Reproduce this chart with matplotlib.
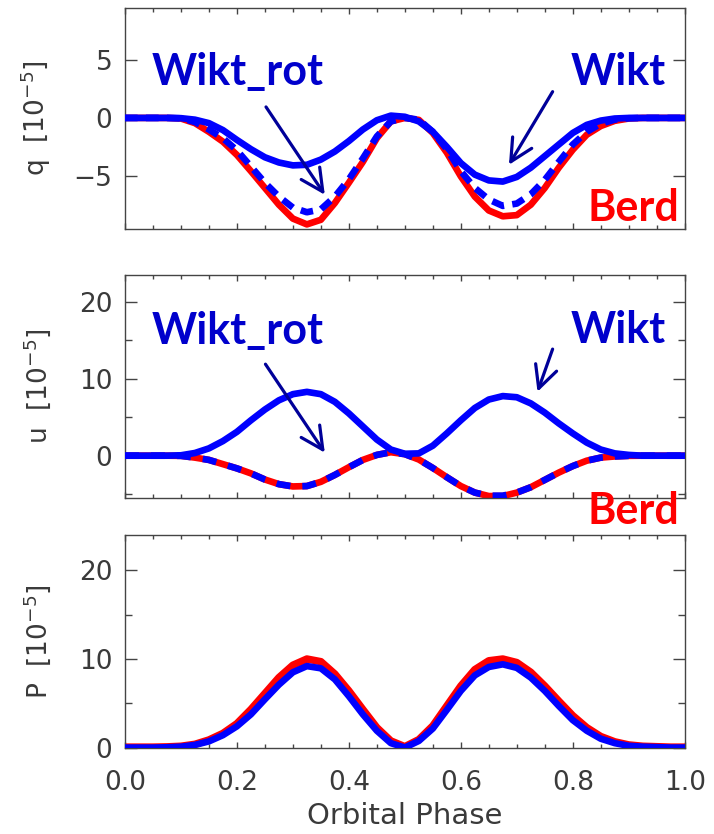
import numpy as np
import matplotlib
matplotlib.use("Agg")
import matplotlib.pyplot as plt
from matplotlib.ticker import FixedLocator, MultipleLocator

# ---------------- data ----------------
phase = [round(0.025 * i, 3) for i in range(41)]

q_berd = [0, 0, 0, 0, -0.05, -0.45, -1.2, -2.05, -3.2, -4.6, -6.05, -7.5, -8.7, -9.2, -8.8,
          -7.35, -5.6, -3.8, -1.75, -0.3, 0.0, -0.17, -1.3, -3.0, -5.05, -6.8, -8.0, -8.5,
          -8.4, -7.5, -6.05, -4.3, -2.75, -1.45, -0.7, -0.25, -0.05, 0, 0, 0, 0]
q_wikt_rot = [0, 0, 0, 0, -0.03, -0.35, -1.0, -1.75, -2.8, -4.2, -5.6, -6.8, -7.75, -8.15, -7.9,
              -6.8, -5.3, -3.5, -1.6, -0.3, 0.0, -0.15, -1.2, -2.7, -4.6, -6.05, -7.05, -7.6,
              -7.4, -6.6, -5.35, -3.8, -2.3, -1.2, -0.5, -0.15, -0.03, 0, 0, 0, 0]
q_wikt = [0, 0, 0, 0, -0.02, -0.15, -0.45, -1.05, -1.9, -2.7, -3.4, -3.85, -4.1, -4.05, -3.6,
          -2.9, -2.0, -1.0, -0.2, 0.2, 0.1, -0.3, -1.2, -2.5, -3.9, -4.9, -5.4, -5.5,
          -5.1, -4.3, -3.3, -2.3, -1.3, -0.6, -0.23, -0.05, 0, 0, 0, 0, 0]

u_berd = [0, 0, 0, 0, -0.02, -0.25, -0.55, -1.1, -1.65, -2.3, -3.1, -3.7, -4.0, -3.95, -3.4,
          -2.5, -1.5, -0.55, 0.1, 0.45, 0.2, -0.5, -1.6, -2.8, -3.95, -4.8, -5.25, -5.25,
          -4.8, -4.1, -3.15, -2.2, -1.35, -0.65, -0.25, -0.1, -0.02, 0, 0, 0, 0]
u_wikt_rot = [0, 0, 0, 0, -0.02, -0.25, -0.55, -1.1, -1.65, -2.3, -3.1, -3.7, -4.0, -3.95, -3.4,
              -2.5, -1.5, -0.55, 0.1, 0.45, 0.2, -0.5, -1.6, -2.8, -3.95, -4.8, -5.2, -5.2,
              -4.8, -4.1, -3.15, -2.2, -1.35, -0.65, -0.25, -0.1, -0.02, 0, 0, 0, 0]
u_wikt = [0, 0, 0, 0, 0.05, 0.35, 0.95, 1.9, 3.1, 4.6, 6.0, 7.2, 8.0, 8.3, 8.0,
          7.0, 5.5, 3.8, 2.1, 0.8, 0.25, 0.3, 1.3, 2.9, 4.6, 6.2, 7.3, 7.75,
          7.6, 6.8, 5.6, 4.2, 2.9, 1.7, 0.8, 0.3, 0.1, 0, 0, 0, 0]

p_berd = [0.05, 0.05, 0.05, 0.08, 0.15, 0.37, 0.86, 1.6, 2.7, 4.3, 6.1, 7.9, 9.3, 10.0, 9.7,
          8.3, 6.4, 4.3, 2.25, 0.75, 0.1, 0.9, 2.45, 4.7, 6.95, 8.8, 9.8, 10.0,
          9.6, 8.5, 6.95, 5.25, 3.6, 2.25, 1.25, 0.65, 0.3, 0.15, 0.1, 0.05, 0.05]
p_wikt = [0, 0, 0, 0.03, 0.1, 0.3, 0.7, 1.4, 2.4, 3.75, 5.45, 7.1, 8.5, 9.2, 8.95,
          7.7, 5.8, 3.75, 1.9, 0.5, 0.0, 0.75, 2.15, 4.25, 6.4, 8.15, 9.1, 9.4,
          9.0, 7.9, 6.4, 4.7, 3.1, 1.9, 1.0, 0.5, 0.2, 0.1, 0.05, 0, 0]

x_ticks = [0.0, 0.2, 0.4, 0.6, 0.8, 1.0]
x_ticklabels = ["0.0", "0.2", "0.4", "0.6", "0.8", "1.0"]

# ---------------- style ----------------
RED = "#ff0000"
BLUE = "#0000ff"
TXT_BLUE = "#0000cc"
ARROW = "#000099"
AXC = "#444444"
TXC = "#3a3a3a"
LW = 4.8
TICKFS = 19
ANNFONT = ["Lato", "DejaVu Sans"]

fig = plt.figure(figsize=(7.14, 8.34), dpi=100)
left, width = 0.175, 0.784
ax1 = fig.add_axes([left, 0.7254, width, 0.2650])
ax2 = fig.add_axes([left, 0.4029, width, 0.2674])
ax3 = fig.add_axes([left, 0.1031, width, 0.2554])


def style(ax, ylim, major, minor=None, xlabels=False):
    ax.set_xlim(0, 1)
    ax.set_ylim(*ylim)
    ax.xaxis.set_major_locator(FixedLocator(x_ticks))
    ax.xaxis.set_minor_locator(MultipleLocator(0.05))
    ax.yaxis.set_major_locator(FixedLocator(major))
    ax.yaxis.set_minor_locator(FixedLocator(minor if minor else []))
    for s in ax.spines.values():
        s.set_color(AXC)
        s.set_linewidth(1.0)
    ax.tick_params(axis="x", which="major", direction="in", length=4.5, width=1.0,
                   color=AXC, top=True, bottom=True, labelsize=TICKFS, labelcolor=TXC, pad=16)
    ax.tick_params(axis="x", which="minor", direction="in", length=2.6, width=1.0,
                   color=AXC, top=True, bottom=True)
    ax.tick_params(axis="y", which="major", direction="in", length=8.6, width=1.0,
                   color=AXC, left=True, right=True, labelsize=TICKFS, labelcolor=TXC, pad=9)
    ax.tick_params(axis="y", which="minor", direction="in", length=5, width=1.0,
                   color=AXC, left=True, right=True)
    if xlabels:
        ax.set_xticklabels(x_ticklabels)
    else:
        ax.tick_params(axis="x", labelbottom=False)
    ax.yaxis.set_label_coords(-0.129, 0.5)


def arrow(ax, start, tip):
    ax.annotate("", xy=tip, xytext=start, zorder=6,
                arrowprops=dict(arrowstyle="->,head_length=0.8,head_width=0.4",
                                lw=2.3, color=ARROW, mutation_scale=20,
                                shrinkA=0, shrinkB=0))


def label(ax, x, y, s, color):
    ax.text(x, y, s, color=color, fontsize=31, fontweight="bold", family=ANNFONT,
            ha="center", va="baseline", zorder=7, clip_on=False)


common = dict(lw=LW, solid_joinstyle="round", dash_joinstyle="round")

# ---- panel 1: q ----
ax1.plot(phase, q_berd, color=RED, zorder=2, **common)
ax1.plot(phase, q_wikt_rot, color=BLUE, ls=(0, (1.9, 1.25)), zorder=3, dash_capstyle="butt", **common)
ax1.plot(phase, q_wikt, color=BLUE, zorder=4, **common)
style(ax1, (-9.6, 9.5), [-5, 0, 5])
ax1.set_yticklabels(["\u22125", "0", "5"])
ax1.set_ylabel("q  [10$^{-5}$]", fontsize=TICKFS, color=TXC)
label(ax1, 0.201, 2.84, "Wikt_rot", TXT_BLUE)
label(ax1, 0.882, 2.84, "Wikt", TXT_BLUE)
label(ax1, 0.908, -8.94, "Berd", RED)
arrow(ax1, (0.252, 0.95), (0.357, -6.64))
arrow(ax1, (0.764, 2.27), (0.686, -4.05))

# ---- panel 2: u ----
ax2.plot(phase, u_berd, color=RED, zorder=2, **common)
ax2.plot(phase, u_wikt_rot, color=BLUE, ls=(0, (2.1, 1.8)), zorder=3, dash_capstyle="butt", **common)
ax2.plot(phase, u_wikt, color=BLUE, zorder=4, **common)
style(ax2, (-5.5, 23.5), [0, 10, 20], [-5, 5, 15])
ax2.set_ylabel("u  [10$^{-5}$]", fontsize=TICKFS, color=TXC)
label(ax2, 0.201, 14.5, "Wikt_rot", TXT_BLUE)
label(ax2, 0.882, 14.6, "Wikt", TXT_BLUE)
label(ax2, 0.908, -8.87, "Berd", RED)
arrow(ax2, (0.251, 11.9), (0.357, 0.39))
arrow(ax2, (0.764, 13.86), (0.737, 8.31))

# ---- panel 3: P ----
ax3.plot(phase, p_berd, color=RED, zorder=2, lw=LW + 0.6, solid_joinstyle="round")
ax3.plot(phase, p_wikt, color=BLUE, zorder=3, **common)
style(ax3, (-0.05, 24.0), [0, 10, 20], [5, 15], xlabels=True)
ax3.set_ylabel("P  [10$^{-5}$]", fontsize=TICKFS, color=TXC)
ax3.set_xlabel("Orbital Phase", fontsize=21, color=TXC, labelpad=4)

fig.savefig("out.png", dpi=100)
